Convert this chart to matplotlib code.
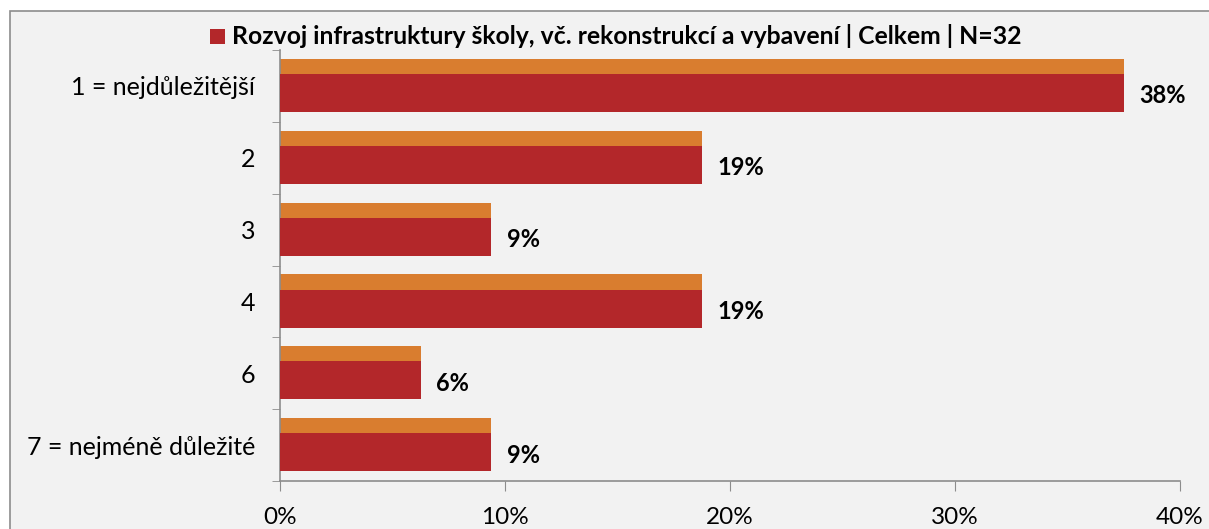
import numpy as np
import matplotlib.pyplot as plt
from matplotlib.patches import Rectangle

plt.rcParams['font.family'] = ['Lato', 'DejaVu Sans']

categories = ["1 = nejdůležitější", "2", "3", "4", "6", "7 = nejméně důležité"]
red_vals = [37.5, 18.75, 9.375, 18.75, 6.25, 9.375]      # Celkem, % of N=32
orange_vals = [37.5, 18.75, 9.375, 18.75, 6.25, 9.375]
title = "Rozvoj infrastruktury školy, vč. rekonstrukcí a vybavení | Celkem | N=32"
xticks = [0, 10, 20, 30, 40]

red = "#B3272A"
orange = "#D97D2F"
grey = "#8C8C8C"

fig = plt.figure(figsize=(12.09, 5.29), dpi=100)
fig.patch.set_facecolor("white")
# chart area panel (Excel style), cut off on right and bottom
fig.patches.append(Rectangle((10 / 1209, -0.05), 1.1, 1 - 11 / 529 + 0.05,
                             transform=fig.transFigure, facecolor="#F2F2F2",
                             edgecolor=grey, linewidth=1.2, zorder=-5))

ax = fig.add_axes([280 / 1209, 1 - 481 / 529, 900 / 1209, 431 / 529])
ax.set_facecolor("#F2F2F2")
ax.patch.set_alpha(0)

y = np.arange(len(categories))
ax.barh(y - 0.27, orange_vals, height=0.21, color=orange, zorder=2)
ax.barh(y + 0.1, red_vals, height=0.53, color=red, zorder=3)

for yi, v in zip(y, red_vals):
    ax.text(v + 0.7, yi + 0.14, f"{int(v + 0.5)}%", ha="left", va="center",
            fontsize=17, fontweight="bold", color="black")

ax.set_ylim(len(categories) - 0.5, -0.5)
ax.set_xlim(0, 40)
ax.set_yticks(y)
ax.set_yticklabels(categories, fontsize=18)
ax.set_yticks(np.arange(len(categories) + 1) - 0.5, minor=True)
ax.tick_params(axis="y", which="major", length=0, pad=18)
ax.tick_params(axis="y", which="minor", length=6, color=grey, direction="out")
ax.set_xticks(xticks)
ax.set_xticklabels([f"{t}%" for t in xticks], fontsize=17.5)
ax.tick_params(axis="x", length=7, color=grey, direction="out", pad=12)

for s in ["top", "right"]:
    ax.spines[s].set_visible(False)
for s in ["left", "bottom"]:
    ax.spines[s].set_color(grey)
    ax.spines[s].set_linewidth(1.2)

# legend-like title with red square
fig.patches.append(Rectangle((210 / 1209, 1 - 44 / 529), 15 / 1209, 15 / 529,
                             transform=fig.transFigure, facecolor=red, edgecolor="none"))
fig.text(232 / 1209, 1 - 36 / 529, title, ha="left", va="center",
         fontsize=17.8, fontweight="bold")

fig.savefig("out.png", dpi=100, facecolor=fig.get_facecolor())
